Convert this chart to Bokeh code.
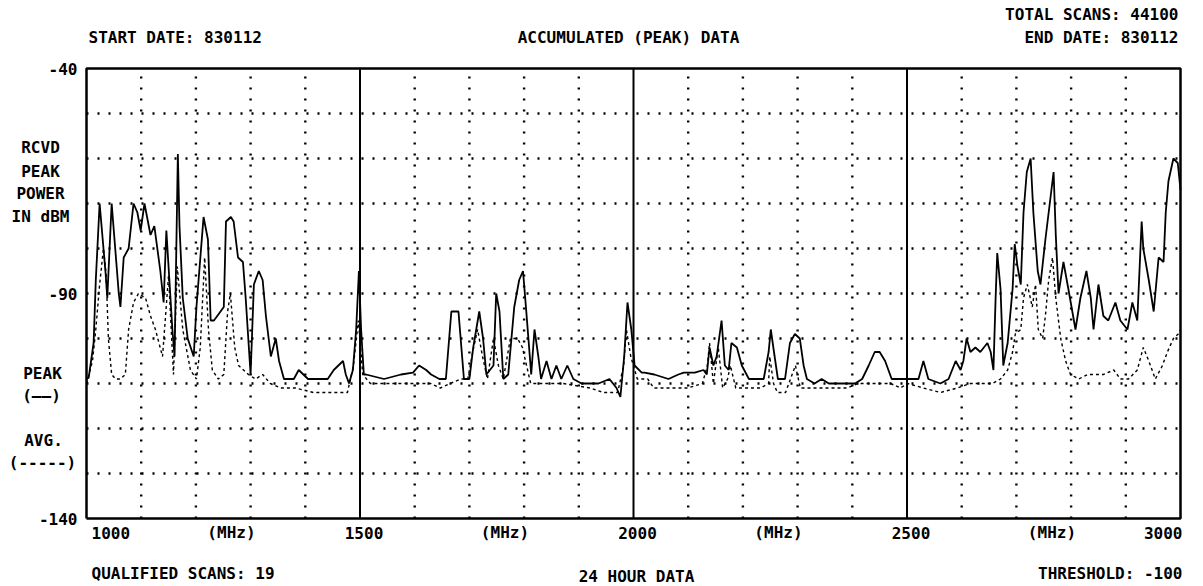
from bokeh.plotting import figure
from bokeh.models import Label, ColumnDataSource
from bokeh.embed import file_html
from bokeh.resources import INLINE

# ---- spectrum survey data: 1000-3000 MHz, received power in dBm ----
peak_mhz = [
    1000, 1004, 1013, 1017, 1024, 1035, 1038, 1046, 1059, 1062, 1068, 1077, 1086, 1093, 1099,
    1106, 1117, 1124, 1135, 1141, 1146, 1150, 1157, 1161, 1165, 1167, 1170, 1176, 1185, 1196,
    1201, 1214, 1222, 1227, 1233, 1251, 1255, 1264, 1269, 1277, 1286, 1291, 1300, 1306, 1315,
    1322, 1328, 1337, 1346, 1352, 1361, 1379, 1388, 1405, 1416, 1441, 1452, 1469, 1474, 1480,
    1487, 1493, 1498, 1502, 1507,
    1511, 1544, 1575, 1597, 1608, 1621, 1630, 1645, 1657, 1667, 1680, 1690, 1700, 1707, 1718,
    1725, 1731, 1744, 1749, 1755, 1762, 1771, 1782, 1791, 1798, 1804, 1813, 1819, 1826, 1831,
    1841, 1850, 1859, 1868, 1879, 1890, 1905, 1936, 1956, 1969, 1976, 1983, 1989, 1996, 2002,
    2015,
    2020, 2038, 2064, 2082, 2092, 2112, 2128, 2134, 2139, 2146, 2152, 2161, 2167, 2174, 2179,
    2189, 2198, 2211, 2222, 2238, 2247, 2251, 2258, 2264, 2277, 2286, 2295, 2304, 2311, 2317,
    2331, 2344, 2357, 2375, 2394, 2405, 2418, 2430, 2441, 2450, 2460, 2472, 2485, 2504, 2521,
    2530, 2539, 2561, 2576, 2589, 2598, 2603, 2609, 2616, 2625, 2634, 2647, 2653, 2658, 2662,
    2665, 2671, 2676, 2684, 2693, 2697, 2702, 2708, 2713, 2719, 2726, 2731, 2739, 2744, 2753,
    2762, 2768, 2772, 2777, 2786, 2795, 2808, 2817, 2828, 2836, 2841, 2850, 2859, 2868, 2881,
    2890, 2903, 2912, 2921, 2929, 2932, 2942, 2951, 2960, 2969, 2973, 2978, 2987, 2995, 3000,
]
peak_dbm = [
    -109, -108.7, -101, -87, -70, -85.6, -91, -70, -90, -93, -82, -80, -70, -72, -76,
    -70, -77, -75, -85, -92, -76, -84, -98, -104, -74, -59, -75, -91, -100, -104,
    -93, -73, -78, -96, -96, -93, -74, -73, -74, -82, -83, -91, -108, -88, -85,
    -87, -95, -104, -100, -105, -109, -109, -107, -109, -109, -109, -107, -105, -108, -110,
    -107, -98, -85, -98, -108,
    -108, -109, -108, -107.6, -106, -107, -108, -109, -109, -94, -94, -109, -109, -102, -94,
    -100, -108, -106, -90, -94, -109, -108, -93, -87, -85, -94, -108, -98, -104, -109,
    -105, -109, -106, -109, -106, -109, -110, -110, -109, -111, -113, -104, -92, -98, -106,
    -107.6,
    -107.6, -108, -109, -108, -107.6, -107.6, -107, -108, -102, -106, -104, -96, -106, -107, -101,
    -102, -106, -109, -109, -109, -103, -98, -104, -109, -109, -101, -99, -100, -106, -109,
    -110, -109, -110, -110, -110, -110, -109, -106, -103, -103, -105, -109, -109, -109, -109,
    -105, -109, -110, -109, -105, -107, -105, -100, -103, -102, -103, -101, -103, -107, -91,
    -81, -89, -106, -101, -89, -79, -84, -88, -72, -63, -60, -72, -85, -88, -78,
    -69, -63, -77, -90, -83, -89, -98, -91, -85, -91, -98, -88, -95, -96, -92,
    -96, -98, -92, -96, -74, -80, -87, -94, -82, -83, -72, -65, -60, -61, -67,
]

avg_mhz = [
    1000, 1011, 1017, 1024, 1031, 1036, 1040, 1046, 1053, 1062, 1071, 1077, 1086, 1095, 1108,
    1117, 1126, 1139, 1150, 1159, 1166, 1176, 1190, 1201, 1208, 1216, 1223, 1230, 1241, 1251,
    1258, 1263, 1271, 1278, 1287, 1296, 1309, 1322, 1336, 1355, 1382, 1415, 1446, 1477, 1488,
    1497, 1505, 1519, 1543, 1574, 1598, 1614, 1629, 1647, 1665, 1684, 1697, 1706, 1715, 1724,
    1733, 1744, 1753, 1762, 1775, 1788, 1797, 1812, 1825, 1872, 1921, 1945, 1971, 1982, 1987,
    1995, 2007, 2026, 2037, 2068, 2099, 2126, 2135, 2139, 2146, 2155, 2163, 2172, 2177, 2187,
    2208, 2232, 2247, 2249, 2256, 2263, 2278, 2287, 2296, 2305, 2318, 2342, 2366, 2391, 2410,
    2428, 2446, 2470, 2488, 2501, 2530, 2561, 2592, 2616, 2640, 2656, 2671, 2684, 2693, 2698,
    2708, 2713, 2720, 2729, 2735, 2740, 2748, 2753, 2759, 2766, 2772, 2781, 2790, 2799, 2814,
    2830, 2845, 2859, 2878, 2890, 2905, 2921, 2932, 2942, 2954, 2967, 2976, 2987, 2996, 3000,
]
avg_dbm = [
    -110, -105, -98, -88, -80, -86, -100, -108, -109, -109, -108, -98, -92, -90, -91,
    -95, -98, -104, -86, -108, -84, -98, -107, -109, -102, -82, -98, -107, -109, -108,
    -94, -90, -102, -106, -107, -108, -109, -108, -110, -111, -111, -112, -112, -112, -106,
    -96, -108, -110, -110, -110, -110, -110, -110, -111, -110, -109, -109, -103, -98, -104,
    -109, -100, -106, -109, -100, -100, -102, -110, -110, -110, -111, -112, -112, -106, -98,
    -104, -109, -109, -111, -111, -111, -110, -106, -101, -110, -102, -111, -109, -106, -111,
    -111, -111, -110, -104, -110, -112, -112, -109, -106, -111, -111, -111, -111, -111, -110,
    -110, -110, -110, -111, -110, -111, -112, -111, -110, -110, -110, -109, -107, -103, -99,
    -98, -91, -88, -93, -88, -98, -100, -95, -87, -82, -91, -100, -105, -108, -109,
    -108, -108, -108, -107, -109, -109, -107, -102, -105, -109, -106, -103, -100, -99, -98,
]

band_edges = [1500, 2000, 2500]
minor_freqs = [1100, 1200, 1300, 1400, 1600, 1700, 1800, 1900,
               2100, 2200, 2300, 2400, 2600, 2700, 2800, 2900]
level_lines = [-130, -120, -110, -100, -90, -80, -70, -60, -50]
y_tick_values = [-140, -90, -40]
y_tick_labels = ["-140", "-90", "-40"]
x_tick_values = [1000, 1500, 2000, 2500, 3000]
x_tick_labels = ["1000", "1500", "2000", "2500", "3000"]
unit_positions = [1265, 1765, 2265, 2765]

FONT = "DejaVu Sans Mono"
FONT_SIZE = "16px"

# canvas size and where the data box sits on it (pixels)
W, H = 1203, 586
L, R, T, B = 86, 1180, 68, 518

X0, X1 = 1000, 3000
Y0, Y1 = -140, -40
sx = (X1 - X0) / (R - L)   # MHz per pixel
sy = (Y1 - Y0) / (B - T)   # dB per pixel

p = figure(width=W, height=H,
           x_range=(X0 - L * sx, X1 + (W - R) * sx),
           y_range=(Y0 - (H - B) * sy, Y1 + T * sy),
           output_backend="svg", toolbar_location=None,
           min_border=0)
p.axis.visible = False
p.grid.visible = False
p.outline_line_color = None
p.background_fill_color = "white"
p.border_fill_color = "white"


def dx(px):
    return X0 + (px - L) * sx


def dy(py):
    return Y1 - (py - T) * sy


# dotted grid
n = len(minor_freqs)
p.segment(x0=minor_freqs, y0=[Y0] * n, x1=minor_freqs, y1=[Y1] * n,
          line_color="black", line_width=2.4, line_dash="2 9")
m = len(level_lines)
p.segment(x0=[X0] * m, y0=level_lines, x1=[X1] * m, y1=level_lines,
          line_color="black", line_width=2.4, line_dash="2 9")

# solid band separators
k = len(band_edges)
p.segment(x0=band_edges, y0=[Y0] * k, x1=band_edges, y1=[Y1] * k,
          line_color="black", line_width=2)

# traces
peak_src = ColumnDataSource(dict(f=peak_mhz, v=peak_dbm))
avg_src = ColumnDataSource(dict(f=avg_mhz, v=avg_dbm))
p.line("f", "v", source=avg_src, line_color="black", line_width=1.4, line_dash="3 3")
p.line("f", "v", source=peak_src, line_color="black", line_width=1.8)

# data box border
p.multi_line(xs=[[X0, X1, X1, X0, X0]], ys=[[Y0, Y0, Y1, Y1, Y0]],
             line_color="black", line_width=2.5)


def lab(text, x, y, align="left", x_offset=0):
    p.add_layout(Label(x=x, y=y, text=text, text_align=align, text_baseline="middle",
                       x_offset=x_offset, text_font=FONT, text_font_style="bold",
                       text_font_size=FONT_SIZE, text_color="black"))


# level labels
for v, t in zip(y_tick_values, y_tick_labels):
    lab(t, dx(77), v, "right")

# frequency labels
ty = dy(532)
for f, t in zip(x_tick_values, x_tick_labels):
    if f == X0:
        lab(t, f, ty, "left", 5)
    elif f == X1:
        lab(t, f, ty, "right", 2)
    else:
        lab(t, f, ty, "center", 4)
for f in unit_positions:
    lab("(MHz)", f, ty, "center")

# header
lab("START DATE: 830112", dx(88), dy(37))
lab("ACCUMULATED (PEAK) DATA", dx(628), dy(37), "center")
lab("TOTAL SCANS: 44100", dx(1178), dy(14), "right")
lab("END DATE: 830112", dx(1178), dy(37), "right")

# left side captions and legend
for txt, py in [("RCVD", 147), ("PEAK", 171), ("POWER", 193), ("IN dBM", 216)]:
    lab(txt, dx(40), dy(py), "center")
lab("PEAK", dx(42), dy(373), "center")
lab("(——)", dx(41), dy(395), "center")
lab("AVG.", dx(43), dy(440), "center")
lab("(-----)", dx(42), dy(462), "center")

# footer
lab("QUALIFIED SCANS: 19", dx(91), dy(573))
lab("24 HOUR DATA", dx(636), dy(576), "center")
lab("THRESHOLD: -100", dx(1182), dy(573), "right")

open("out.html", "w").write(file_html(p, INLINE))
